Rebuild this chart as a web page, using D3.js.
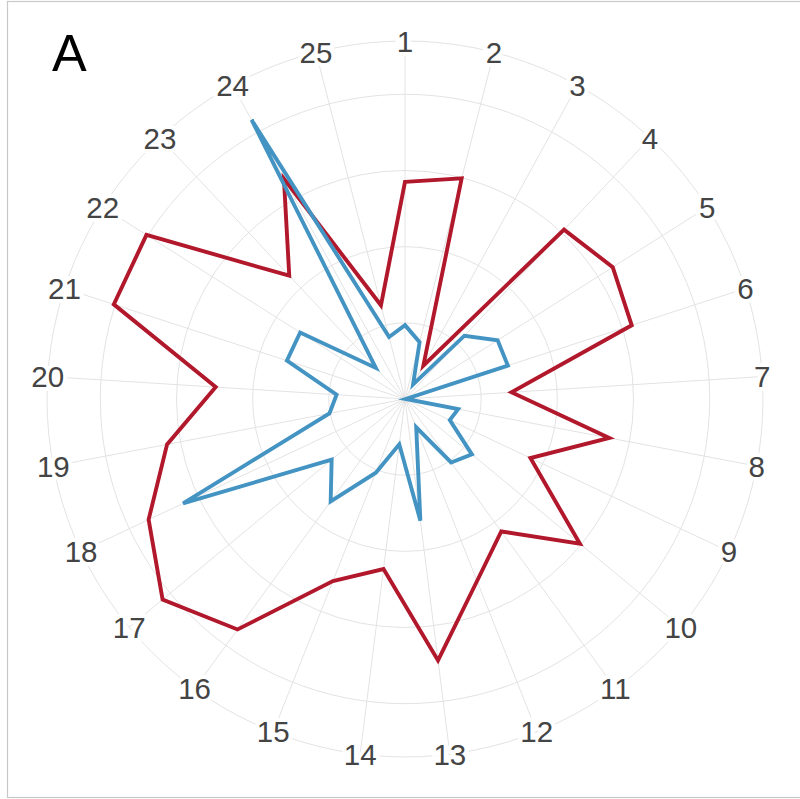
<!DOCTYPE html>
<html>
<head>
<meta charset="utf-8">
<script src="https://cdn.jsdelivr.net/npm/d3@7"></script>
<style>
  html, body { margin: 0; padding: 0; background: #fff; }
  svg { display: block; }
</style>
</head>
<body>
<svg id="chart" width="800" height="799"></svg>
<script>
// Axis categories (1..25)
const categories = d3.range(1, 26).map(String);

// Series values, one per category
const redValues = [28.5, 29.9, 5.0, 30.5, 32.3, 31.3, 14.0, 27.3, 18.2, 29.8,
                   21.5, 25.7, 34.6, 22.5, 25.7, 37.4, 41.3, 37.2, 31.8, 24.9,
                   40.2, 40.2, 22.2, 33.0, 12.7];
const blueValues = [9.7, 7.7, 2.2, 11.4, 14.4, 14.2, 0.1, 7.1, 6.5, 11.4,
                    10.3, 4.0, 16.1, 6.0, 10.4, 16.6, 12.5, 32.2, 10.1, 9.0,
                    16.3, 16.3, 5.6, 41.8, 8.4];

// Radial grid levels and outer limit
const gridLevels = [10, 20, 30, 40];
const radialMax = 47;

const panelLabel = "A";

const svg = d3.select("#chart");
const cx = 405, cy = 399, outerR = 358;

// Frame
svg.append("rect")
  .attr("x", 7.5).attr("y", 1.5)
  .attr("width", 800).attr("height", 796)
  .attr("fill", "#fff")
  .attr("stroke", "#c8c8c8")
  .attr("stroke-width", 1.2);

const angle = d3.scaleBand()
  .domain(categories)
  .range([0, 2 * Math.PI])
  .align(0)
  .paddingInner(0).paddingOuter(0);
const theta = c => angle(c);

const r = d3.scaleLinear().domain([0, radialMax]).range([0, outerR]);

const g = svg.append("g").attr("transform", `translate(${cx},${cy})`);

// Grid circles
g.append("g").selectAll("circle")
  .data(gridLevels.concat([radialMax]))
  .join("circle")
  .attr("r", d => r(d))
  .attr("fill", "none")
  .attr("stroke", "#e3e3e3")
  .attr("stroke-width", 1);

// Spokes
g.append("g").selectAll("line")
  .data(categories)
  .join("line")
  .attr("x1", 0).attr("y1", 0)
  .attr("x2", d => r(radialMax) * Math.sin(theta(d)))
  .attr("y2", d => -r(radialMax) * Math.cos(theta(d)))
  .attr("stroke", "#e3e3e3")
  .attr("stroke-width", 1);

// Series polygons
const radial = d3.lineRadial()
  .angle((d, i) => theta(categories[i]))
  .radius(d => r(d))
  .curve(d3.curveLinearClosed);

const series = [
  { values: redValues, color: "#b2182b" },
  { values: blueValues, color: "#4393c3" }
];

g.append("g").selectAll("path")
  .data(series)
  .join("path")
  .attr("d", d => radial(d.values))
  .attr("fill", "none")
  .attr("stroke", d => d.color)
  .attr("stroke-width", 3.9)
  .attr("stroke-linejoin", "miter");

// Category labels on the outer ring
g.append("g").selectAll("text")
  .data(categories)
  .join("text")
  .attr("x", d => r(radialMax) * Math.sin(theta(d)))
  .attr("y", d => -r(radialMax) * Math.cos(theta(d)))
  .attr("text-anchor", "middle")
  .attr("dominant-baseline", "central")
  .attr("font-family", "'Liberation Sans', Arial, sans-serif")
  .attr("font-size", 29.5)
  .attr("fill", "#444")
  .attr("stroke", "#fff")
  .attr("stroke-width", 8)
  .attr("paint-order", "stroke")
  .text(d => d);

// Panel tag
svg.append("text")
  .attr("x", 52).attr("y", 71)
  .attr("font-family", "'Liberation Sans', Arial, sans-serif")
  .attr("font-size", 52)
  .attr("fill", "#000")
  .text(panelLabel);
</script>
</body>
</html>
